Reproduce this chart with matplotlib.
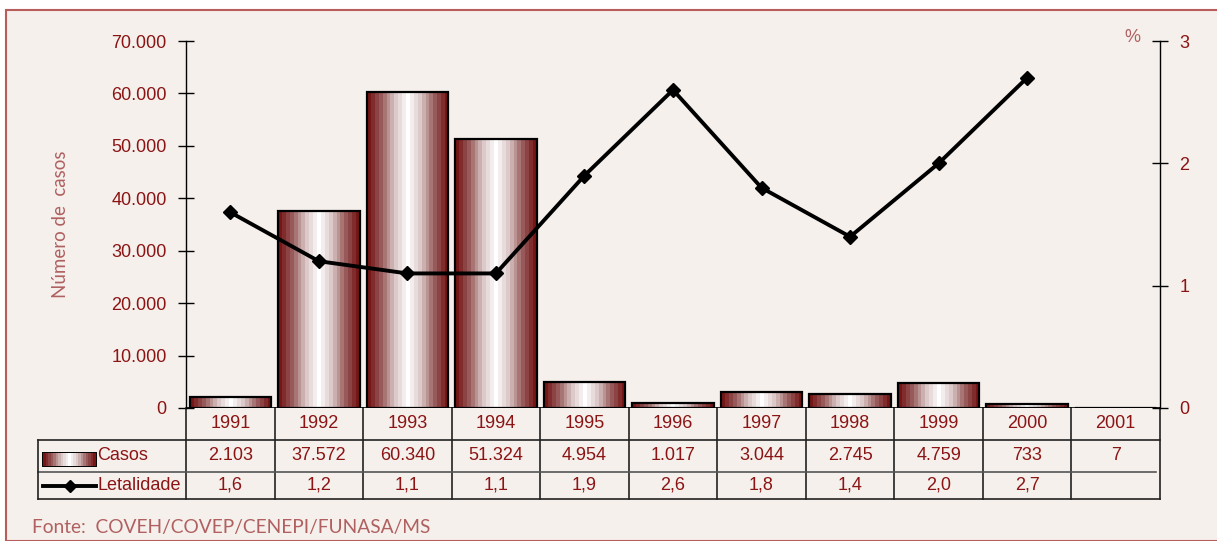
import matplotlib.pyplot as plt
import numpy as np
from matplotlib.colors import LinearSegmentedColormap
from matplotlib.patches import Rectangle
from matplotlib.lines import Line2D

# data
anos = ['1991', '1992', '1993', '1994', '1995', '1996', '1997', '1998', '1999', '2000', '2001']
casos = [2103, 37572, 60340, 51324, 4954, 1017, 3044, 2745, 4759, 733, 7]
casos_txt = ['2.103', '37.572', '60.340', '51.324', '4.954', '1.017', '3.044', '2.745', '4.759', '733', '7']
letalidade = [1.6, 1.2, 1.1, 1.1, 1.9, 2.6, 1.8, 1.4, 2.0, 2.7, np.nan]
letal_txt = ['1,6', '1,2', '1,1', '1,1', '1,9', '2,6', '1,8', '1,4', '2,0', '2,7', '']
left_ticks = [0, 10000, 20000, 30000, 40000, 50000, 60000, 70000]
left_labels = ['0', '10.000', '20.000', '30.000', '40.000', '50.000', '60.000', '70.000']

BG = '#f5f0ec'
RED = '#8b1414'
ROSE = '#b06060'
W, H = 1217, 541

plt.rcParams['font.family'] = ['Liberation Sans', 'DejaVu Sans']

fig = plt.figure(figsize=(W / 100, H / 100), dpi=100)
fig.patch.set_facecolor('white')
fig.patches.append(Rectangle((6 / W, 0), 1.0, 1 - 10 / H, transform=fig.transFigure,
                             facecolor=BG, edgecolor='#b85c5c', lw=1.5, zorder=-10))

ax = fig.add_axes([186 / W, 1 - 408 / H, (1160 - 186) / W, (408 - 41) / H])
ax.set_facecolor('none')
ax2 = ax.twinx()

x = np.arange(len(anos))
cmap = LinearSegmentedColormap.from_list('bar', ['#761616', '#9c6262', '#d8c4c4', '#ffffff'])
grad = 1 - np.abs(np.linspace(-1, 1, 21))[None, :]

bars = ax.bar(x, casos, width=0.92, color='none', edgecolor='black', lw=1.6, zorder=3)
for b in bars:
    x0, y0, bw, bh = b.get_x(), b.get_y(), b.get_width(), b.get_height()
    ax.imshow(grad, cmap=cmap, aspect='auto', interpolation='nearest',
              extent=(x0, x0 + bw, y0, y0 + bh), zorder=2)

ax.set_xlim(-0.5, len(anos) - 0.5)
ax.set_ylim(0, 70000)
ax.set_yticks(left_ticks)
ax.set_yticklabels(left_labels)
ax.set_xticks([])
for s in ['top', 'right', 'bottom']:
    ax.spines[s].set_visible(False)
ax.spines['left'].set_linewidth(1.0)
ax.tick_params(axis='y', direction='inout', length=12, width=1, labelcolor=RED,
               labelsize=13, pad=8)
ax.set_ylabel('Número de  casos', family='Lato', fontsize=13.5, color=ROSE, labelpad=30)
ax.axhline(0, color='black', lw=1.2, zorder=4)

ax2.plot(x, letalidade, color='black', lw=2.8, marker='D', markersize=7, zorder=5)
ax2.set_ylim(0, 3)
ax2.set_yticks([0, 1, 2, 3])
for s in ['top', 'left', 'bottom']:
    ax2.spines[s].set_visible(False)
ax2.spines['right'].set_linewidth(1.0)
ax2.tick_params(axis='y', direction='inout', length=12, width=1, labelcolor=RED,
                labelsize=13, pad=8)
ax2.text(0.972, 1.01, '%', transform=ax2.transAxes, color=ROSE, fontsize=13, ha='center', va='center')

# data table under the chart
trans = ax.get_xaxis_transform()
ah = 408 - 41
def yrow(py):
    return -(py - 408) / ah

y_year, y_casos, y_let, y_end = yrow(408), yrow(440), yrow(472), yrow(499)
step = (1160 - 186) / len(anos)
x_left = -0.5 - (186 - 38) / step
lc = '#222222'
kw = dict(transform=trans, clip_on=False, color=lc, lw=1.2)
ax.plot([-0.5, -0.5], [y_year, y_end], **kw)
for i in range(len(anos)):
    ax.plot([i + 0.5, i + 0.5], [y_year, y_end], **kw)
ax.plot([x_left, len(anos) - 0.5], [y_casos, y_casos], **kw)
ax.plot([x_left, len(anos) - 0.55], [y_let, y_let], transform=trans, clip_on=False, color='#555555', lw=1.2)
ax.plot([x_left, len(anos) - 0.5], [y_end, y_end], **kw)
ax.plot([x_left, x_left], [y_casos, y_end], **kw)

tkw = dict(transform=trans, ha='center', va='center', color=RED, fontsize=13, clip_on=False)
for i in range(len(anos)):
    ax.text(i, (y_year + y_casos) / 2, anos[i], **tkw)
    ax.text(i, (y_casos + y_let) / 2, casos_txt[i], **tkw)
    ax.text(i, (y_let + y_end) / 2, letal_txt[i], **tkw)

# legend keys inside the table
kx0 = x_left + (43 - 38) / step
kx1 = x_left + (96 - 38) / step
ky0, ky1 = yrow(466), yrow(453)
ax.imshow(grad, cmap=cmap, aspect='auto', interpolation='nearest',
          extent=(kx0, kx1, ky0, ky1), transform=trans, clip_on=False, zorder=2)
ax.add_patch(Rectangle((kx0, ky0), kx1 - kx0, ky1 - ky0, transform=trans, clip_on=False,
                       facecolor='none', edgecolor='black', lw=1.4))
ax.text(kx1 + 0.01, (y_casos + y_let) / 2, 'Casos', transform=trans, ha='left', va='center',
        color=RED, fontsize=13, clip_on=False)
ly = (y_let + y_end) / 2
ax.add_line(Line2D([kx0, kx1], [ly, ly], transform=trans, clip_on=False, color='black', lw=2.8))
ax.plot([(kx0 + kx1) / 2], [ly], transform=trans, clip_on=False, color='black', marker='D', markersize=6)
ax.text(kx1 + 0.02, ly, 'Letalidade', transform=trans, ha='left', va='center',
        color=RED, fontsize=13, clip_on=False)

fig.text(32 / W, 1 - 528 / H, 'Fonte:  COVEH/COVEP/CENEPI/FUNASA/MS', family='Lato',
         fontsize=13.8, color=ROSE, ha='left', va='center')

fig.savefig('out.png', dpi=100, facecolor=fig.get_facecolor())
